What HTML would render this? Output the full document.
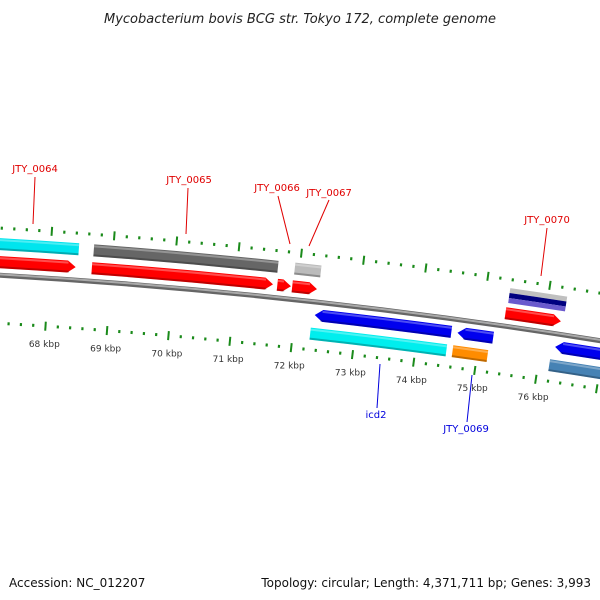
<!DOCTYPE html>
<html><head><meta charset="utf-8">
<style>
body{margin:0;background:#fff;}
svg{display:block;font-family:"DejaVu Sans","Liberation Sans",sans-serif;}
</style></head>
<body>
<svg id="map" width="600" height="600" viewBox="0 0 600 600" xmlns="http://www.w3.org/2000/svg">
<text x="300" y="23" text-anchor="middle" font-size="13" font-style="italic" fill="#222">Mycobacterium bovis BCG str. Tokyo 172, complete genome</text>
<text x="9" y="587" font-size="12" fill="#111">Accession: NC_012207</text>
<text x="591" y="587" font-size="12" fill="#111" text-anchor="end">Topology: circular; Length: 4,371,711 bp; Genes: 3,993</text>
<g id="marks"></g>
</svg>
<script>
// Data (kbp)
const fwdStarts = [66.0, 68.68, 71.67, 71.91, 75.36];
const fwdEnds   = [68.42, 71.60, 71.89, 72.31, 76.26];
const fwdUpperStarts = [66.0, 68.69, 71.92];
const fwdUpperEnds   = [68.45, 71.65, 72.34];
const fwdUpperColors = ['#00e5ee', '#666666', '#bbbbbb'];
const stripeStart = 75.38, stripeEnd = 76.30;
const revStarts = [72.32, 74.64, 76.23];
const revEnds   = [74.54, 75.22, 78.0];
const revLowerStarts = [72.28, 74.60, 76.18];
const revLowerEnds   = [74.50, 75.17, 78.0];
const revLowerColors = ['#00eeee', '#ff8c00', '#4682b4'];
const tickLabels = [68,69,70,71,72,73,74,75,76];

const NS='http://www.w3.org/2000/svg';
const cx=-350, cy=6265;
const phi0=0.0665, k=0.01036;
function ang(p){return phi0+(p-68)*k;}
function pt(r,p){const a=ang(p);return [cx+r*Math.sin(a), cy-r*Math.cos(a)];}
const g=document.getElementById('marks');
function mk(tag,attrs){const e=document.createElementNS(NS,tag);for(const a in attrs)e.setAttribute(a,attrs[a]);g.appendChild(e);return e;}
function arcPath(r,p1,p2){const a=pt(r,p1),b=pt(r,p2);return `M${a[0]},${a[1]} A${r},${r} 0 0 1 ${b[0]},${b[1]}`;}
function band(r,w,p1,p2,dir){ // dir: 0 none, 1 forward arrow, -1 reverse arrow
  const ro=r+w/2, ri=r-w/2, h=8/r/k; let d;
  if(dir===1){const q=p2-h;const a=pt(ro,p1),b=pt(ro,q),t=pt(r,p2),c=pt(ri,q),e=pt(ri,p1);
    d=`M${a}A${ro},${ro} 0 0 1 ${b}L${t}L${c}A${ri},${ri} 0 0 0 ${e}Z`;}
  else if(dir===-1){const q=p1+h;const t=pt(r,p1),a=pt(ro,q),b=pt(ro,p2),c=pt(ri,p2),e=pt(ri,q);
    d=`M${t}L${a}A${ro},${ro} 0 0 1 ${b}L${c}A${ri},${ri} 0 0 0 ${e}Z`;}
  else {const a=pt(ro,p1),b=pt(ro,p2),c=pt(ri,p2),e=pt(ri,p1);
    d=`M${a}A${ro},${ro} 0 0 1 ${b}L${c}A${ri},${ri} 0 0 0 ${e}Z`;}
  return d;
}
function feature(name,r,w,p1,p2,dir,color){
  const e=mk('path',{d:band(r,w,p1,p2,dir),fill:color});
  
  
  const s=mk('path',{d:arcPath(r-w/2+1,p1+(dir===-1?0.1:0),p2-(dir===1?0.1:0)),stroke:'#000','stroke-opacity':0.25,'stroke-width':2,fill:'none'});
  
  
  const hgl=mk('path',{d:arcPath(r+w/2-2,p1+(dir===-1?0.12:0),p2-(dir===1?0.12:0)),stroke:'#fff','stroke-opacity':0.3,'stroke-width':2,fill:'none'});
  
  
}
// backbone
let bb=mk('path',{d:arcPath(6000,63,80),stroke:'#666',"stroke-width":5,fill:'none'});


let bb2=mk('path',{d:arcPath(6000.8,63,80),stroke:'#aaa',"stroke-width":2,fill:'none'});


// ticks
for(let i=0;i<=90;i++){
  const p=64+i*0.2; const major=(i%5===0);
  [[6047,1],[5952,-1]].forEach(([r])=>{
    const L=major?4.5:1.5;
    const a=pt(r-L,p),b=pt(r+L,p);
    const t=mk('line',{x1:a[0],y1:a[1],x2:b[0],y2:b[1],stroke:'#1a8a1a','stroke-width':major?2:2.2});
    
    
  });
}
tickLabels.forEach(v=>{
  const q=pt(5934,v);
  const t=mk('text',{x:q[0],y:q[1]+3,'text-anchor':'middle','font-size':9,fill:'#333'});
  t.textContent=v+' kbp';
  
  
});
// features
fwdStarts.forEach((s,i)=>feature('forward-gene',6013,12,s,fwdEnds[i],1,'#ff0000'));
fwdUpperStarts.forEach((s,i)=>feature('forward-feature',6031,12,s,fwdUpperEnds[i],0,fwdUpperColors[i]));
[[6036,'#c0c0c0'],[6031,'#000080'],[6026,'#6a5acd']].forEach(([r,c])=>{
  const e=mk('path',{d:band(r,5,stripeStart,stripeEnd,0),fill:c});
  
  
});
revStarts.forEach((s,i)=>feature('reverse-gene',5987,12,s,revEnds[i],-1,'#0000ee'));
revLowerStarts.forEach((s,i)=>feature('reverse-feature',5968,12,s,revLowerEnds[i],0,revLowerColors[i]));
// labels
const labels=[['JTY_0064',35,172,33,224,35,177,'#e00000'],['JTY_0065',189,183,186,234,188,188,'#e00000'],
['JTY_0066',277,191,290,244,278,196,'#e00000'],['JTY_0067',329,196,309,246,329,200,'#e00000'],
['JTY_0070',547,223,541,276,547,228,'#e00000'],['icd2',376,418,380,364,377,408,'#0000dd'],['JTY_0069',466,432,472,375,467,422,'#0000dd']];
labels.forEach(l=>{
  const ln=mk('line',{x1:l[3],y1:l[4],x2:l[5],y2:l[6],stroke:l[7],'stroke-width':1});
  
  
  const t=mk('text',{x:l[1],y:l[2],'text-anchor':'middle','font-size':10,fill:l[7]});
  t.textContent=l[0];
  
  
});
</script>
</body></html>
